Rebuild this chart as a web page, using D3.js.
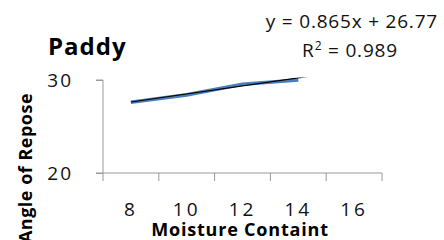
<!DOCTYPE html>
<html>
<head>
<meta charset="utf-8">
<script src="https://cdnjs.cloudflare.com/ajax/libs/d3/7.8.5/d3.min.js"></script>
<style>
  body { margin: 0; background: #fff; }
  text { font-family: "Open Sans", "DejaVu Sans", sans-serif; }
</style>
</head>
<body>
<div id="chart"></div>
<script>
// data
var categories = ["8", "10", "12", "14", "16"];
var angle = [27.6, 28.4, 29.55, 30.0];
var yTicks = [20, 30];
var slope = 0.865, intercept = 26.77;

var svgWidth = 444, svgHeight = 240;
var plotLeft = 103, plotRight = 382, plotTop = 80, plotBottom = 173;

var $svg = d3.select("#chart").append("svg")
    .attr("width", svgWidth)
    .attr("height", svgHeight);

var x = d3.scaleBand().domain(categories).range([plotLeft, plotRight]);
var y = d3.scaleLinear().domain([20, 30]).range([plotBottom, plotTop]);

// clip for plot area
$svg.append("clipPath").attr("id", "plot")
  .append("rect")
    .attr("x", plotLeft).attr("y", plotTop - 2.5)
    .attr("width", plotRight - plotLeft).attr("height", plotBottom - plotTop + 2.5);

// y axis
var yAxis = $svg.append("g")
    .attr("transform", `translate(${plotLeft},0)`)
    .call(d3.axisLeft(y).tickValues(yTicks).tickSize(7).tickPadding(23));
yAxis.select(".domain").attr("stroke", "#999").attr("d", `M-7,${plotTop}H0V${plotBottom}`);
yAxis.selectAll(".tick line").attr("stroke", "#999");
yAxis.selectAll(".tick text")
    .attr("font-size", 19).attr("letter-spacing", 2).attr("fill", "#111");

// x axis (category axis, ticks between categories)
var xAxisG = $svg.append("g").attr("transform", `translate(0,${plotBottom})`);
xAxisG.append("line")
    .attr("x1", plotLeft - 7).attr("x2", plotRight)
    .attr("stroke", "#999");
var bounds = categories.map(c => x(c)).concat([plotRight]);
xAxisG.selectAll(".tk").data(bounds).enter().append("line")
    .attr("x1", d => d).attr("x2", d => d)
    .attr("y1", 0).attr("y2", 8)
    .attr("stroke", "#999");
xAxisG.selectAll(".lbl").data(categories).enter().append("text")
    .attr("x", d => x(d) + x.bandwidth() / 2)
    .attr("y", 43)
    .attr("text-anchor", "middle")
    .attr("font-size", 19)
    .attr("letter-spacing", 3)
    .attr("fill", "#111")
    .text(d => d);

var pos = (i) => x(categories[0]) + x.bandwidth() / 2 + i * x.step();

var g = $svg.append("g").attr("clip-path", "url(#plot)");

// data line
g.append("path")
    .datum(angle)
    .attr("fill", "none")
    .attr("stroke", "#4a7ebb")
    .attr("stroke-width", 3.6)
    .attr("d", d3.line().x((d, i) => pos(i)).y(d => y(d)));

// trend line
var trendX = [1, 4.27];
g.append("path")
    .datum(trendX)
    .attr("fill", "none")
    .attr("stroke", "#000")
    .attr("stroke-width", 1.2)
    .attr("d", d3.line().x(d => pos(d - 1)).y(d => y(slope * d + intercept)));

// title
$svg.append("text")
    .attr("x", 48).attr("y", 55)
    .attr("font-size", 24).attr("font-weight", "bold")
    .attr("letter-spacing", 1)
    .text("Paddy");

// equation
$svg.append("text")
    .attr("x", 438).attr("y", 28)
    .attr("text-anchor", "end")
    .attr("font-size", 19)
    .attr("letter-spacing", 0.8)
    .attr("fill", "#111")
    .text("y = 0.865x + 26.77");
var r2 = $svg.append("text")
    .attr("x", 350).attr("y", 57)
    .attr("text-anchor", "middle")
    .attr("font-size", 19)
    .attr("letter-spacing", 0.8)
    .attr("fill", "#111");
r2.append("tspan").text("R");
r2.append("tspan").attr("dy", -7).attr("font-size", 12).text("2");
r2.append("tspan").attr("dy", 7).text(" = 0.989");

// axis titles
$svg.append("text")
    .attr("transform", "translate(32,168) rotate(-90)")
    .attr("text-anchor", "middle")
    .attr("font-size", 18).attr("font-weight", "bold")
    .attr("letter-spacing", 0.5)
    .text("Angle of Repose");

$svg.append("text")
    .attr("x", 240).attr("y", 236)
    .attr("text-anchor", "middle")
    .attr("font-size", 18).attr("font-weight", "bold")
    .attr("letter-spacing", 0.8)
    .text("Moisture Containt");
</script>
</body>
</html>
